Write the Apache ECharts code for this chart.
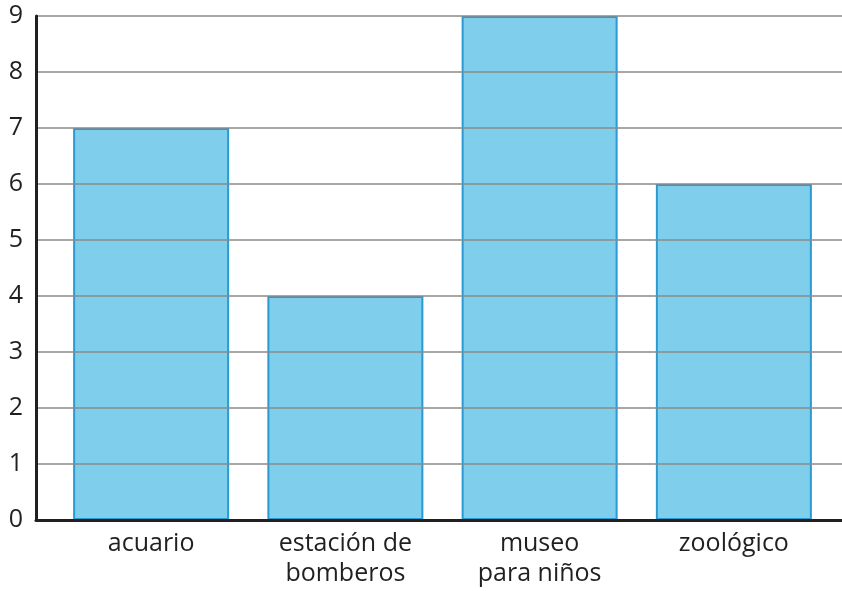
<!DOCTYPE html>
<html>
<head>
<meta charset="utf-8">
<script src="https://cdn.jsdelivr.net/npm/echarts@6/dist/echarts.min.js"></script>
<style>
  html, body { margin: 0; padding: 0; background: #fff; }
  #chart { width: 842px; height: 591px; }
</style>
</head>
<body>
<div id="chart"></div>
<script>
const lugares = ['acuario', 'estación de\nbomberos', 'museo\npara niños', 'zoológico'];
const visitas = [7, 4, 9, 6];
const yTicks = [0, 1, 2, 3, 4, 5, 6, 7, 8, 9];

const chart = echarts.init(document.getElementById('chart'));
const txt = '#231f20';
const fuente = '"Open Sans", "Noto Sans", sans-serif';

chart.setOption({
  animation: false,
  grid: [
    // grid for gridlines / y axis, drawn on top of bars
    { left: 36, right: 0, top: 16, bottom: 71 },
    // grid for bars and category labels
    { left: 54, right: 11, top: 16, bottom: 71 }
  ],
  xAxis: [
    {
      gridIndex: 0, type: 'value', min: 0, max: 1,
      axisLine: { show: true, lineStyle: { color: txt, width: 3 } },
      axisTick: { show: false }, axisLabel: { show: false }, splitLine: { show: false },
      z: 5
    },
    {
      gridIndex: 1, type: 'category', data: lugares,
      axisLine: { show: false }, axisTick: { show: false },
      axisLabel: {
        color: txt, fontSize: 25, fontFamily: fuente,
        lineHeight: 30, margin: 9, interval: 0
      }
    }
  ],
  yAxis: [
    {
      gridIndex: 0, type: 'value', min: yTicks[0], max: yTicks[yTicks.length - 1], interval: 1,
      axisLine: { show: true, lineStyle: { color: txt, width: 3 } },
      axisTick: { show: false },
      axisLabel: { color: txt, fontSize: 25, fontFamily: fuente, margin: 13 },
      splitLine: { show: true, lineStyle: { color: '#8a8a8a', width: 1.5 } },
      z: 5
    },
    {
      gridIndex: 1, type: 'value', min: 0, max: 9, show: false
    }
  ],
  series: [
    {
      type: 'bar',
      xAxisIndex: 1, yAxisIndex: 1,
      data: visitas,
      barWidth: 156,
      itemStyle: { color: '#7fceeb', borderColor: '#2a9ad3', borderWidth: 2 },
      z: 2
    }
  ]
});
</script>
</body>
</html>
